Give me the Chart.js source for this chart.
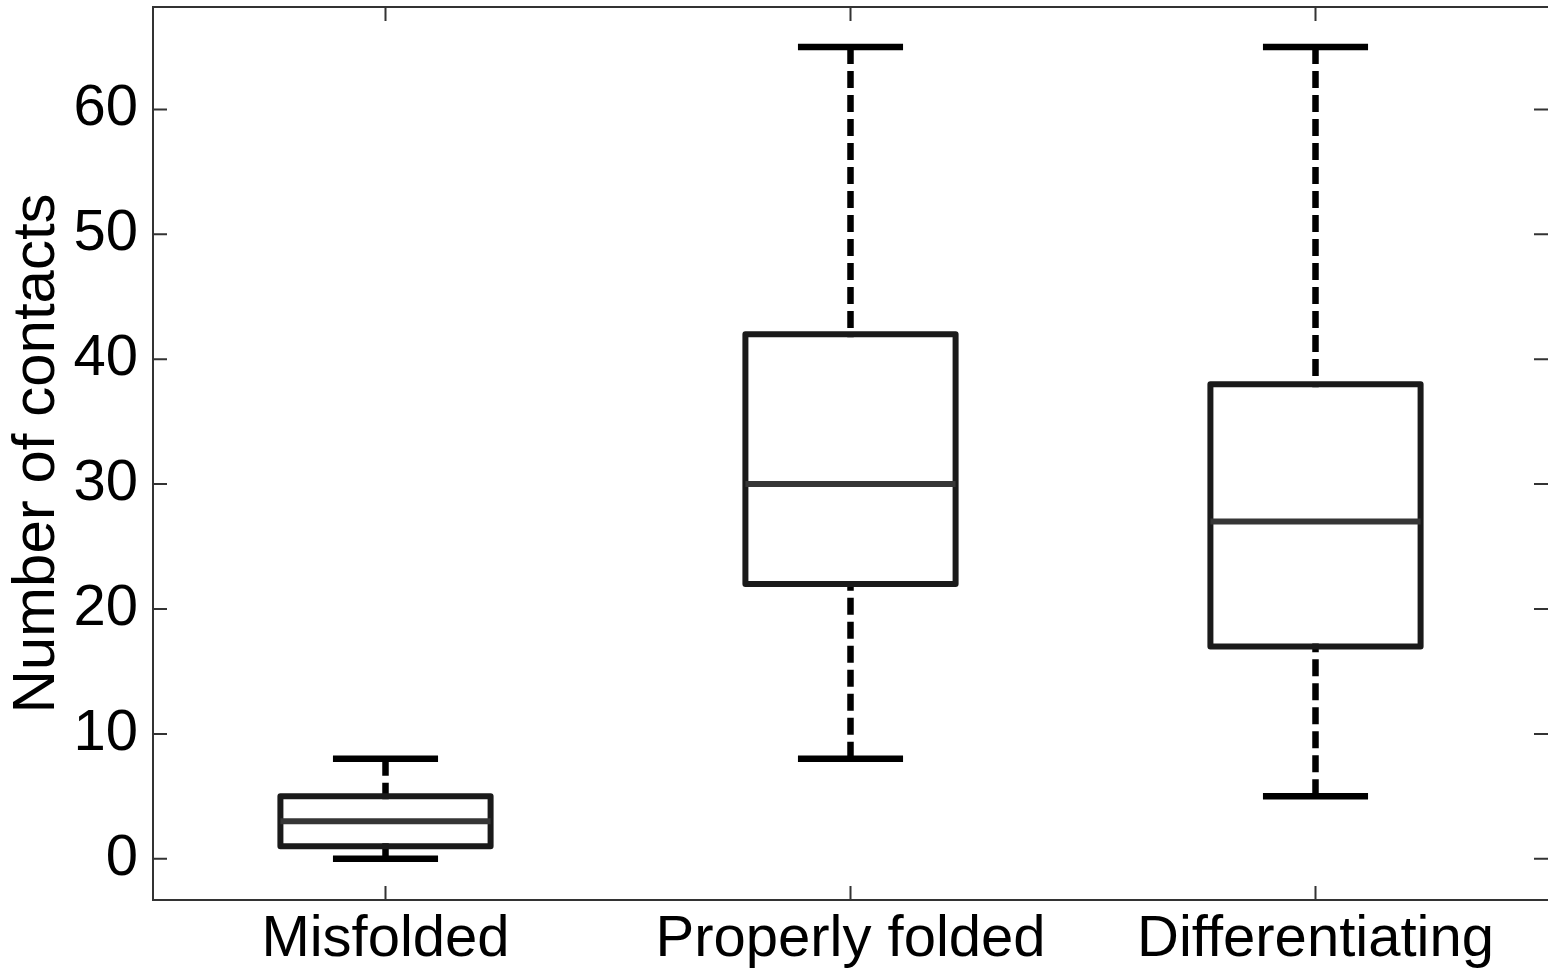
<!DOCTYPE html>
<html>
<head>
<meta charset="utf-8">
<script src="https://cdn.jsdelivr.net/npm/chart.js@4.4.1/dist/chart.umd.min.js"></script>
<style>
  html, body { margin: 0; padding: 0; background: #fff; }
  #wrap { width: 1548px; height: 972px; }
</style>
</head>
<body>
<div id="wrap"><canvas id="c" width="1548" height="972"></canvas></div>
<script>
const categories = ['Misfolded', 'Properly folded', 'Differentiating'];
const whiskerLow = [0, 8, 5];
const quartile1 = [1, 22, 17];
const medians = [3, 30, 27];
const quartile3 = [5, 42, 38];
const whiskerHigh = [8, 65, 65];
const yTicks = [0, 10, 20, 30, 40, 50, 60];
const yTitle = 'Number of contacts';

const FONT = "'Liberation Sans', Arial, Helvetica, sans-serif";

const boxPlugin = {
  id: 'boxPlugin',
  afterDatasetsDraw(chart) {
    const ctx = chart.ctx;
    const y = chart.scales.y;
    const meta = chart.getDatasetMeta(0);
    ctx.save();
    meta.data.forEach((bar, i) => {
      const cx = bar.x;
      const hw = bar.width / 2;
      const yq1 = y.getPixelForValue(quartile1[i]);
      const yq3 = y.getPixelForValue(quartile3[i]);
      const ymed = y.getPixelForValue(medians[i]);
      const ylo = y.getPixelForValue(whiskerLow[i]);
      const yhi = y.getPixelForValue(whiskerHigh[i]);
      // whiskers (dashed), drawn from caps toward box
      ctx.strokeStyle = '#000';
      ctx.lineWidth = 6.5;
      ctx.lineCap = 'butt';
      ctx.setLineDash([17, 7]);
      ctx.beginPath();
      ctx.moveTo(cx, yhi); ctx.lineTo(cx, yq3 + 3);
      ctx.moveTo(cx, ylo); ctx.lineTo(cx, yq1 - 3);
      ctx.stroke();
      ctx.setLineDash([]);
      // caps
      ctx.beginPath();
      ctx.moveTo(cx - hw / 2, yhi); ctx.lineTo(cx + hw / 2, yhi);
      ctx.moveTo(cx - hw / 2, ylo); ctx.lineTo(cx + hw / 2, ylo);
      ctx.stroke();
      // box
      ctx.strokeStyle = '#1a1a1a';
      ctx.lineWidth = 6;
      ctx.lineJoin = 'round';
      ctx.strokeRect(cx - hw, yq3, 2 * hw, yq1 - yq3);
      // median
      ctx.strokeStyle = '#363636';
      ctx.lineWidth = 6;
      ctx.beginPath();
      ctx.moveTo(cx - hw, ymed); ctx.lineTo(cx + hw, ymed);
      ctx.stroke();
    });
    ctx.restore();
  },
  afterDraw(chart) {
    const ctx = chart.ctx;
    const a = chart.chartArea;
    const x = chart.scales.x;
    const y = chart.scales.y;
    const tl = 14;
    ctx.save();
    ctx.strokeStyle = '#333';
    ctx.lineWidth = 2;
    ctx.beginPath();
    ctx.moveTo(a.right + 2, a.top); ctx.lineTo(a.left, a.top);
    ctx.lineTo(a.left, a.bottom); ctx.lineTo(a.right + 2, a.bottom);
    ctx.stroke();
    ctx.beginPath();
    yTicks.forEach(v => {
      const py = y.getPixelForValue(v);
      ctx.moveTo(a.left, py); ctx.lineTo(a.left + tl, py);
      ctx.moveTo(a.right, py); ctx.lineTo(a.right - tl, py);
    });
    categories.forEach((c, i) => {
      const px = x.getPixelForValue(i);
      ctx.moveTo(px, a.bottom); ctx.lineTo(px, a.bottom - tl);
      ctx.moveTo(px, a.top); ctx.lineTo(px, a.top + tl);
    });
    ctx.stroke();
    ctx.restore();
  }
};

new Chart(document.getElementById('c'), {
  type: 'bar',
  data: {
    labels: categories,
    datasets: [{
      data: categories.map((c, i) => [quartile1[i], quartile3[i]]),
      backgroundColor: '#ffffff',
      borderWidth: 0,
      barPercentage: 0.452,
      categoryPercentage: 1.0
    }]
  },
  options: {
    responsive: false,
    animation: false,
    devicePixelRatio: 1,
    layout: { padding: { top: 7, right: 0, left: 0, bottom: 0 } },
    plugins: { legend: { display: false }, tooltip: { enabled: false } },
    scales: {
      x: {
        type: 'category',
        offset: true,
        grid: { display: false, drawTicks: false },
        border: { display: false },
        ticks: {
          color: '#000',
          font: { family: FONT, size: 58 },
          padding: 5,
          maxRotation: 0,
          autoSkip: false
        },
        afterFit(scale) {
          scale.height = 72;
          scale.paddingLeft = 0; scale.paddingRight = 0;
        }
      },
      y: {
        type: 'linear',
        min: -3.3,
        max: 68.2,
        grid: { display: false, drawTicks: false },
        border: { display: false },
        afterBuildTicks(scale) { scale.ticks = yTicks.map(v => ({ value: v })); },
        ticks: {
          color: '#000',
          font: { family: FONT, size: 58 },
          padding: 15,
          callback: v => String(v)
        },
        title: {
          display: true,
          text: yTitle,
          color: '#000',
          font: { family: FONT, size: 60, lineHeight: 1.2 },
          padding: { top: 1, bottom: 0 }
        },
        afterFit(scale) {
          scale.width = 153;
          scale.paddingTop = 0; scale.paddingBottom = 0;
        }
      }
    }
  },
  plugins: [boxPlugin]
});
</script>
</body>
</html>
